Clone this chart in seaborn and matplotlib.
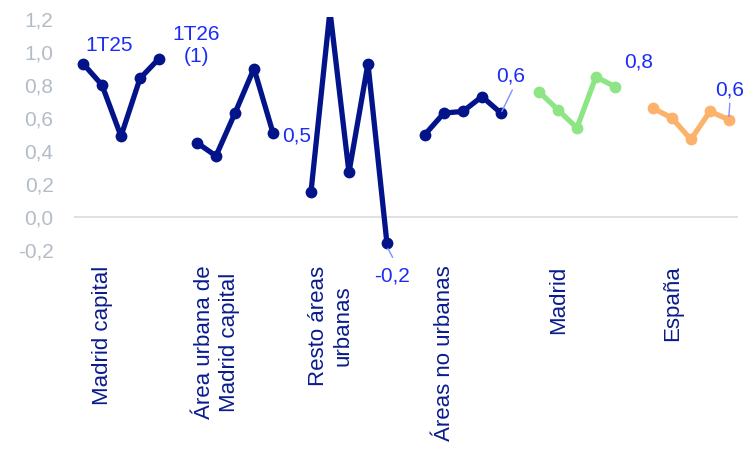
import numpy as np
import pandas as pd
import matplotlib
matplotlib.use("Agg")
import matplotlib.pyplot as plt
import seaborn as sns

# Categories and values (1T25 ... 1T26)
categorias = ["Madrid capital", "Área urbana de\nMadrid capital", "Resto áreas\nurbanas",
              "Áreas no urbanas", "Madrid", "España"]
trimestres = ["1T25", "2T25", "3T25", "4T25", "1T26"]
madrid_capital = [0.93, 0.80, 0.49, 0.84, 0.96]
area_urbana = [0.45, 0.37, 0.63, 0.90, 0.51]
resto_urbanas = [0.15, 1.25, 0.27, 0.93, -0.16]
no_urbanas = [0.50, 0.63, 0.64, 0.73, 0.63]
madrid = [0.76, 0.65, 0.54, 0.85, 0.79]
espana = [0.66, 0.60, 0.47, 0.64, 0.59]

series = [madrid_capital, area_urbana, resto_urbanas, no_urbanas, madrid, espana]

navy = "#03138a"
colores = {categorias[0]: navy, categorias[1]: navy, categorias[2]: navy,
           categorias[3]: navy, categorias[4]: "#8ee586", categorias[5]: "#fdb26c"}

rows = []
for g, (cat, vals) in enumerate(zip(categorias, series)):
    for i, v in enumerate(vals):
        rows.append({"grupo": cat, "trimestre": trimestres[i], "x": g * 6 + i, "valor": v})
df = pd.DataFrame(rows)

sns.set_style("white")
plt.rcParams["font.family"] = ["Liberation Sans", "DejaVu Sans"]

fig = plt.figure(figsize=(7.46, 4.5), dpi=100)
ax = fig.add_axes([0.0998, 0.4224, 0.890, 0.539])

sns.lineplot(data=df, x="x", y="valor", hue="grupo", palette=colores, marker="o",
             markersize=8.5, markeredgewidth=0, linewidth=3.8, legend=False, ax=ax)

ax.axhline(0, color="#d8dce1", lw=1.2, zorder=0)

ax.set_xlim(-0.45, 34.5)
ax.set_ylim(-0.26, 1.21)
yt = np.round(np.arange(-0.2, 1.21, 0.2), 1)
ax.set_yticks(yt)
ax.set_yticklabels([f"{t:.1f}".replace(".", ",").replace("-0,0", "0,0") for t in yt])
ax.tick_params(axis="y", length=0, pad=15, labelsize=15, labelcolor="#b4bcc6")

ax.set_xticks([g * 6 + 1.05 for g in range(len(categorias))])
ax.set_xticklabels(categorias, rotation=90, multialignment="center")
ax.tick_params(axis="x", length=0, pad=4, labelsize=16, labelcolor="#0a1c8c")
ax.set_xlabel("")
ax.set_ylabel("")
sns.despine(ax=ax, left=True, bottom=True)

azul = "#1b2df5"
guia = "#8090ff"
ax.text(1.37, 1.04, "1T25", color=azul, fontsize=15, ha="center", va="center")
ax.text(5.95, 1.04, "1T26\n(1)", color=azul, fontsize=15, ha="center", va="center",
        multialignment="center", linespacing=1.2)
ax.text(10.5, 0.49, "0,5", color=azul, fontsize=15, ha="left", va="center")
ax.text(16.26, -0.36, "-0,2", color=azul, fontsize=15, ha="center", va="center", clip_on=False)
ax.plot([16.05, 16.3], [-0.19, -0.245], color=guia, lw=1, clip_on=False)
ax.text(22.5, 0.855, "0,6", color=azul, fontsize=15, ha="center", va="center")
ax.plot([22.05, 22.6], [0.64, 0.77], color=guia, lw=1)
ax.text(29.26, 0.94, "0,8", color=azul, fontsize=15, ha="center", va="center")
ax.text(34.05, 0.77, "0,6", color=azul, fontsize=15, ha="center", va="center", clip_on=False)
ax.plot([34.0, 34.05], [0.61, 0.69], color=guia, lw=1, clip_on=False)

fig.savefig("out.png", dpi=100)
